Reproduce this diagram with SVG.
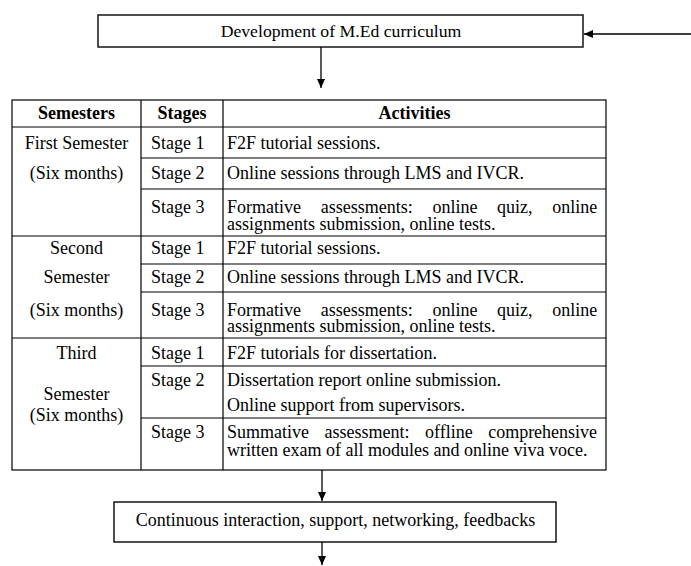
<svg xmlns="http://www.w3.org/2000/svg" width="691" height="566" viewBox="0 0 691 566" font-family="'Liberation Serif', 'Times New Roman', serif">
<style>
text{font-family:"Liberation Serif","Times New Roman",serif;font-size:18px;fill:#000}
.b{font-weight:bold}
.c{text-anchor:middle}
.box{fill:#fff;stroke:#222;stroke-width:1.6}
.tl{stroke:#000;stroke-width:1.2;fill:none}
.conn{stroke:#000;stroke-width:1.3;fill:none}
</style>
<defs>
<marker id="ah" markerWidth="10" markerHeight="10" refX="9" refY="4" orient="auto" markerUnits="userSpaceOnUse">
<path d="M0,0 L9,4 L0,8 Z" fill="#000"/>
</marker>
</defs>
<g id="node-top">
<rect class="box" x="98" y="15" width="485" height="32"/>
<text class="c" x="341" y="37" style="font-size:17.7px">Development of M.Ed curriculum</text>
</g>
<g id="node-table">
<rect class="tl" x="12" y="100" width="594" height="370"/>
<line class="tl" x1="141" y1="100" x2="141" y2="470"/>
<line class="tl" x1="223" y1="100" x2="223" y2="470"/>
<line class="tl" x1="12" y1="127" x2="606" y2="127"/>
<line class="tl" x1="141" y1="158" x2="606" y2="158"/>
<line class="tl" x1="141" y1="189" x2="606" y2="189"/>
<line class="tl" x1="12" y1="236" x2="606" y2="236"/>
<line class="tl" x1="141" y1="264" x2="606" y2="264"/>
<line class="tl" x1="141" y1="292" x2="606" y2="292"/>
<line class="tl" x1="12" y1="338" x2="606" y2="338"/>
<line class="tl" x1="141" y1="366" x2="606" y2="366"/>
<line class="tl" x1="141" y1="418" x2="606" y2="418"/>
<text class="b c" x="76.5" y="119">Semesters</text>
<text class="b c" x="182" y="119">Stages</text>
<text class="b c" x="414.5" y="119">Activities</text>
<text class="c" x="76.5" y="149">First Semester</text>
<text class="c" x="76.5" y="179">(Six months)</text>
<text x="151" y="149">Stage 1</text>
<text x="151" y="179">Stage 2</text>
<text x="151" y="213">Stage 3</text>
<text x="227" y="149">F2F tutorial sessions.</text>
<text x="227" y="179">Online sessions through LMS and IVCR.</text>
<text x="227" y="213" word-spacing="15.2">Formative assessments: online quiz, online</text>
<text x="227" y="230">assignments submission, online tests.</text>
<text class="c" x="76.5" y="254">Second</text>
<text class="c" x="76.5" y="283">Semester</text>
<text class="c" x="76.5" y="316">(Six months)</text>
<text x="151" y="254">Stage 1</text>
<text x="151" y="283">Stage 2</text>
<text x="151" y="316">Stage 3</text>
<text x="227" y="254">F2F tutorial sessions.</text>
<text x="227" y="283">Online sessions through LMS and IVCR.</text>
<text x="227" y="316" word-spacing="15.2">Formative assessments: online quiz, online</text>
<text x="227" y="332">assignments submission, online tests.</text>
<text class="c" x="76.5" y="359">Third</text>
<text class="c" x="76.5" y="400">Semester</text>
<text class="c" x="76.5" y="421">(Six months)</text>
<text x="151" y="359">Stage 1</text>
<text x="151" y="386">Stage 2</text>
<text x="151" y="438">Stage 3</text>
<text x="227" y="359">F2F tutorials for dissertation.</text>
<text x="227" y="386">Dissertation report online submission.</text>
<text x="227" y="411">Online support from supervisors.</text>
<text x="227" y="438" word-spacing="11">Summative assessment: offline comprehensive</text>
<text x="227" y="456">written exam of all modules and online viva voce.</text>
</g>
<g id="node-bottom">
<rect class="box" x="114" y="502" width="442" height="40"/>
<text class="c" x="335.5" y="526">Continuous interaction, support, networking, feedbacks</text>
</g>
<g id="connectors">
<line class="conn" x1="691" y1="34" x2="584" y2="34" marker-end="url(#ah)"/>
<line class="conn" x1="321" y1="47" x2="321" y2="88" marker-end="url(#ah)"/>
<line class="conn" x1="322" y1="470" x2="322" y2="501" marker-end="url(#ah)"/>
<line class="conn" x1="322" y1="542" x2="322" y2="565" marker-end="url(#ah)"/>
</g>
</svg>
